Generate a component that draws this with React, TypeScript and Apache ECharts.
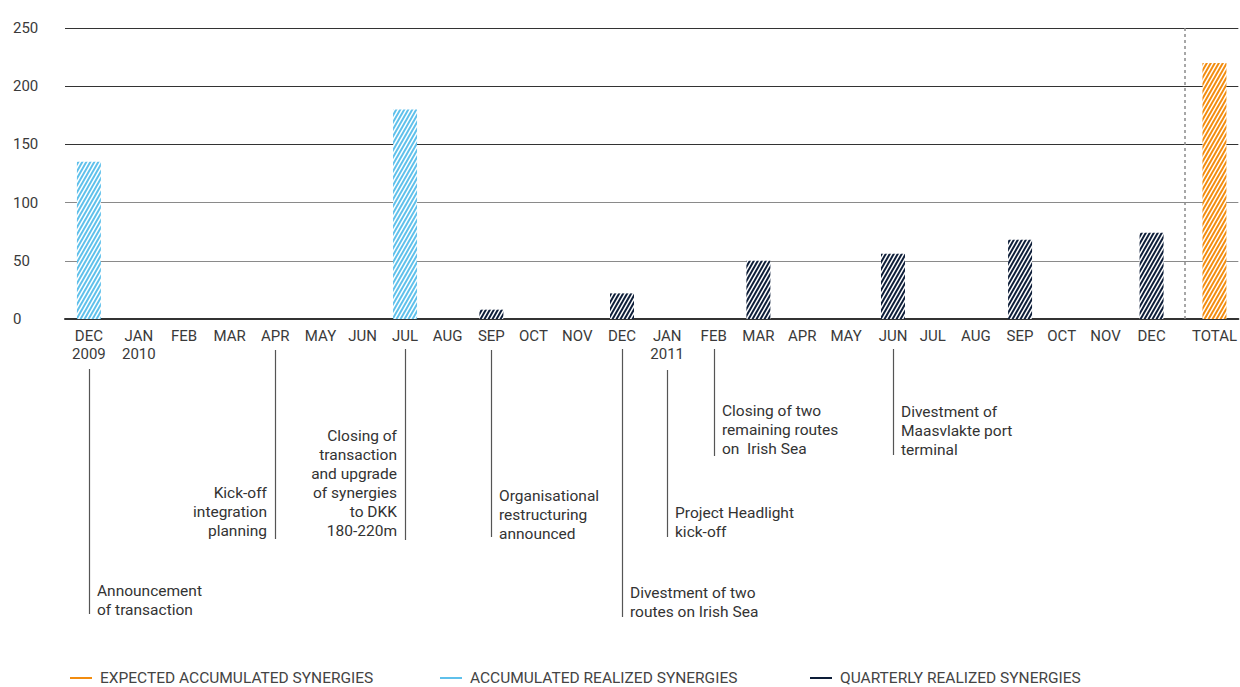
import React, { useEffect, useRef } from "react";
import * as echarts from "echarts";

// ---------- DATA ----------
const categoryLabels = [
  "DEC\n2009", "JAN\n2010", "FEB", "MAR", "APR", "MAY", "JUN", "JUL", "AUG", "SEP", "OCT", "NOV", "DEC",
  "JAN\n2011", "FEB", "MAR", "APR", "MAY", "JUN", "JUL", "AUG", "SEP", "OCT", "NOV", "DEC", "TOTAL",
];

const expectedAccumulated: (number | null)[] = [
  null, null, null, null, null, null, null, null, null, null, null, null, null,
  null, null, null, null, null, null, null, null, null, null, null, null, 220,
];
const accumulatedRealized: (number | null)[] = [
  135, null, null, null, null, null, null, 180, null, null, null, null, null,
  null, null, null, null, null, null, null, null, null, null, null, null, null,
];
const quarterlyRealized: (number | null)[] = [
  null, null, null, null, null, null, null, null, null, 8, null, null, 22,
  null, null, 50, null, null, 56, null, null, 68, null, null, 74, null,
];

const yTicks = [0, 50, 100, 150, 200, 250];

const seriesNames = [
  "EXPECTED ACCUMULATED SYNERGIES",
  "ACCUMULATED REALIZED SYNERGIES",
  "QUARTERLY REALIZED SYNERGIES",
];

const annotationCategory = [0, 4, 7, 9, 12, 13, 14, 18];
const annotationTexts = [
  "Announcement\nof transaction",
  "Kick-off\nintegration\nplanning",
  "Closing of\ntransaction\nand upgrade\nof synergies\nto DKK\n180-220m",
  "Organisational\nrestructuring\nannounced",
  "Divestment of two\nroutes on Irish Sea",
  "Project Headlight\nkick-off",
  "Closing of two\nremaining routes\non  Irish Sea",
  "Divestment of\nMaasvlakte port\nterminal",
];

// ---------- LAYOUT (positions / styles) ----------
// x position of each category slot on the horizontal value axis
const categoryPositions = [
  0, 1.128, 2.15, 3.18, 4.21, 5.23, 6.18, 7.14, 8.1, 9.09, 10.04, 11.03, 12.04,
  13.06, 14.11, 15.12, 16.11, 17.1, 18.16, 19.06, 20.03, 21.03, 21.97, 22.96, 24.0, 25.42,
];
const separatorPosition = 24.75;

const annotationLayout = [
  { side: "right", top: 369, bottom: 614, textTop: 581.5 },
  { side: "left", top: 350, bottom: 539, textTop: 483.5 },
  { side: "left", top: 349, bottom: 540, textTop: 426.5 },
  { side: "right", top: 350, bottom: 537, textTop: 486.5 },
  { side: "right", top: 349, bottom: 617, textTop: 583.5 },
  { side: "right", top: 370, bottom: 537, textTop: 503.5 },
  { side: "right", top: 349, bottom: 456, textTop: 401.5 },
  { side: "right", top: 349, bottom: 455, textTop: 402.5 },
];

const FONT = "Roboto, 'Open Sans', sans-serif";
const COLORS = ["#F28C0F", "#5FC0EB", "#0D1D38"];

const toPairs = (arr: (number | null)[]) =>
  arr
    .map((v, i) => (v == null ? null : [categoryPositions[i], v]))
    .filter((d) => d !== null) as number[][];

// diagonal white hatch tile (stripes rising to the right)
function hatch(color: string): any {
  const W = 8;
  const H = 14;
  const c = document.createElement("canvas");
  c.width = W;
  c.height = H;
  const ctx = c.getContext("2d");
  if (!ctx) return color;
  ctx.fillStyle = color;
  ctx.fillRect(0, 0, W, H);
  ctx.fillStyle = "#ffffff";
  const sw = 1.75;
  for (let o = -12; o <= 12; o += 4) {
    ctx.beginPath();
    ctx.moveTo(o, H);
    ctx.lineTo(o + sw, H);
    ctx.lineTo(o + sw + W, 0);
    ctx.lineTo(o + W, 0);
    ctx.closePath();
    ctx.fill();
  }
  return { image: c, repeat: "repeat" };
}

export default function App() {
  const ref = useRef<HTMLDivElement>(null);

  useEffect(() => {
    document.body.style.margin = "0";
    if (!ref.current) return;
    const chart = echarts.init(ref.current, undefined, { renderer: "svg" });

    const labelFor = (value: number) => {
      const i = categoryPositions.findIndex((p) => Math.abs(p - value) < 0.001);
      return i >= 0 ? categoryLabels[i] : "";
    };

    const legendBase = {
      top: 670,
      padding: 0,
      icon: "rect",
      itemWidth: 22,
      itemHeight: 2,
      textStyle: { fontFamily: FONT, fontSize: 15.5, lineHeight: 14, color: "#444", padding: [0, 0, 0, 3] },
      selectedMode: false,
    };

    const option: any = {
      animation: false,
      backgroundColor: "#ffffff",
      grid: { left: 65, right: 0, top: 28, bottom: 368, containLabel: false },
      legend: [0, 1, 2].map((k) => ({
        ...legendBase,
        left: [70, 440, 810][k],
        data: [{ name: seriesNames[k], itemStyle: { color: COLORS[k] } }],
      })),
      xAxis: {
        type: "value",
        min: -0.54,
        max: 25.96,
        splitLine: { show: false },
        axisTick: { show: false },
        axisLine: { show: true, onZero: true, lineStyle: { color: "#333", width: 2 } },
        axisLabel: {
          customValues: categoryPositions,
          formatter: (v: number) => labelFor(v),
          fontFamily: FONT,
          fontSize: 15,
          lineHeight: 18,
          color: "#3a3a3a",
          margin: 8,
          align: "center",
        },
      },
      yAxis: {
        type: "value",
        min: 0,
        max: 250,
        interval: 50,
        axisLine: { show: false },
        axisTick: { show: false },
        splitLine: {
          show: true,
          lineStyle: { color: ["#333", "#8a8a8a", "#8a8a8a", "#333", "#333", "#333"], width: 1 },
        },
        axisLabel: {
          customValues: yTicks,
          fontFamily: FONT,
          fontSize: 15,
          color: "#3a3a3a",
          align: "left",
          margin: 52,
          verticalAlign: "middle",
          padding: [0, 0, 8, 0],
        },
      },
      series: [
        {
          name: seriesNames[0],
          type: "bar",
          barWidth: 24,
          barGap: "-100%",
          data: toPairs(expectedAccumulated),
          itemStyle: { color: hatch(COLORS[0]) },
          markLine: {
            silent: true,
            symbol: "none",
            label: { show: false },
            lineStyle: { color: "#8a8a8a", type: [3, 3], width: 1.5 },
            data: [{ xAxis: separatorPosition }],
          },
        },
        {
          name: seriesNames[1],
          type: "bar",
          barWidth: 24,
          barGap: "-100%",
          data: toPairs(accumulatedRealized),
          itemStyle: { color: hatch(COLORS[1]) },
        },
        {
          name: seriesNames[2],
          type: "bar",
          barWidth: 24,
          barGap: "-100%",
          data: toPairs(quarterlyRealized),
          itemStyle: { color: hatch(COLORS[2]) },
        },
        {
          name: "annotations",
          type: "custom",
          silent: true,
          clip: false,
          data: annotationCategory.map((c, i) => [categoryPositions[c], 0, i]),
          renderItem: (params: any, api: any) => {
            const i = api.value(2);
            const L = annotationLayout[i];
            const x = Math.round(api.coord([api.value(0), 0])[0]) + 0.5;
            const right = L.side === "right";
            return {
              type: "group",
              children: [
                {
                  type: "line",
                  shape: { x1: x, y1: L.top, x2: x, y2: L.bottom },
                  style: { stroke: "#555", lineWidth: 1.2 },
                },
                {
                  type: "text",
                  style: {
                    text: annotationTexts[i],
                    x: right ? x + 7.5 : x - 8.5,
                    y: L.textTop,
                    align: right ? "left" : "right",
                    verticalAlign: "top",
                    fontFamily: FONT,
                    fontSize: 15.5,
                    lineHeight: 19,
                    fill: "#333",
                  },
                },
              ],
            };
          },
        },
      ],
    };

    chart.setOption(option);
    return () => chart.dispose();
  }, []);

  return <div ref={ref} style={{ width: 1240, height: 687 }} />;
}
